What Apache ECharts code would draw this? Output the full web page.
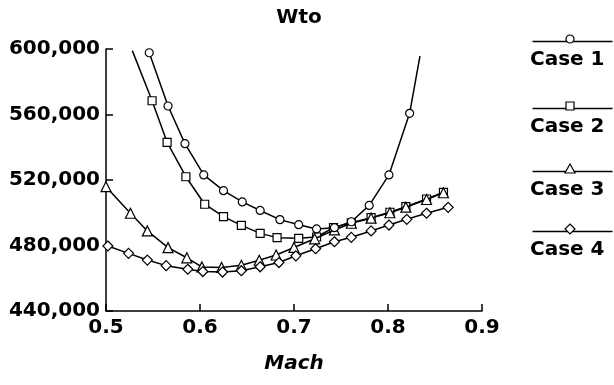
<!DOCTYPE html>
<html>
<head>
<meta charset="utf-8">
<script src="https://cdn.jsdelivr.net/npm/echarts@6/dist/echarts.min.js"></script>
<style>
html,body{margin:0;padding:0;background:#fff;}
#chart{width:614px;height:385px;}
</style>
</head>
<body>
<div id="chart"></div>
<script>
// ---- data ----
var chartTitle = 'Wto';
var xName = 'Mach';
var seriesNames = ['Case 1', 'Case 2', 'Case 3', 'Case 4'];
var yTicks = [440000, 480000, 520000, 560000, 600000];
var xTicks = [0.5, 0.6, 0.7, 0.8, 0.9];

var case1Mach = [0.546, 0.566, 0.584, 0.604, 0.625, 0.645, 0.664, 0.685, 0.705, 0.724, 0.743, 0.761, 0.780, 0.801, 0.823, 0.834];
var case1Wto  = [597700, 565200, 542200, 523100, 513500, 506600, 501400, 495800, 492700, 490100, 490900, 494500, 504500, 523100, 560700, 595700];

var case2Mach = [0.528, 0.549, 0.565, 0.585, 0.605, 0.625, 0.644, 0.664, 0.682, 0.705, 0.724, 0.742, 0.761, 0.782, 0.802, 0.819, 0.841, 0.859];
var case2Wto  = [599000, 568400, 543000, 522000, 505200, 497600, 492300, 487400, 484800, 484400, 485200, 490900, 493900, 497000, 500300, 503700, 508400, 512500];

var case3Mach = [0.500, 0.526, 0.544, 0.566, 0.586, 0.602, 0.623, 0.644, 0.663, 0.681, 0.700, 0.722, 0.743, 0.761, 0.782, 0.802, 0.819, 0.841, 0.859];
var case3Wto  = [515900, 499700, 488900, 478700, 472500, 466900, 466600, 467900, 471000, 474200, 478800, 484100, 489500, 493600, 496700, 500000, 503400, 508100, 512200];

var case4Mach = [0.502, 0.524, 0.544, 0.564, 0.587, 0.603, 0.624, 0.644, 0.664, 0.684, 0.702, 0.723, 0.743, 0.761, 0.782, 0.801, 0.820, 0.841, 0.864];
var case4Wto  = [479700, 475200, 471100, 467700, 465500, 464100, 463800, 464600, 467000, 469600, 473700, 478000, 482300, 485000, 488900, 492500, 496000, 499700, 503300];

var symbols = ['circle', 'rect', 'triangle', 'diamond'];
var symbolSizes = [8, 8, 10, 10];

// ---- build ----
function pairs(xs, ys, hideFirst, hideLast) {
  return xs.map(function (x, i) {
    var item = { value: [x, ys[i]] };
    if ((hideFirst && i === 0) || (hideLast && i === xs.length - 1)) item.symbol = 'none';
    return item;
  });
}
var allData = [
  pairs(case1Mach, case1Wto, false, true),
  pairs(case2Mach, case2Wto, true, false),
  pairs(case3Mach, case3Wto, false, false),
  pairs(case4Mach, case4Wto, false, false)
];

var FONT = 'DejaVu Sans';
var GL = 106, GT = 49, GW = 376, GH = 262;

var series = allData.map(function (d, i) {
  return {
    name: seriesNames[i],
    type: 'line',
    data: d,
    symbol: symbols[i],
    symbolSize: symbolSizes[i],
    showAllSymbol: true,
    z: [4, 2, 3, 5][i],
    lineStyle: { color: '#000', width: 1.5 },
    itemStyle: { color: '#fff', borderColor: '#000', borderWidth: 1.2 },
    emphasis: { disabled: true },
    animation: false
  };
});

// legend drawn as graphics: line with marker above its label
var legendY = [39, 106, 169, 229];
var graphics = [];
seriesNames.forEach(function (n, i) {
  graphics.push({
    type: 'line', left: 530, top: legendY[i],
    shape: { x1: 0, y1: 0, x2: 80, y2: 0 },
    style: { stroke: '#000', lineWidth: 1.5 }
  });
  var s = symbolSizes[i];
  var shp;
  if (i === 0) shp = { type: 'circle', x: 570, y: legendY[i], shape: { cx: 0, cy: 0, r: s / 2 } };
  else if (i === 1) shp = { type: 'rect', x: 570 - s / 2, y: legendY[i] - s / 2, shape: { x: 0, y: 0, width: s, height: s } };
  else if (i === 2) shp = { type: 'polygon', x: 570, y: legendY[i], shape: { points: [[0, -s / 2], [s / 2, s / 2 - 1], [-s / 2, s / 2 - 1]] } };
  else shp = { type: 'polygon', x: 570, y: legendY[i], shape: { points: [[0, -s / 2], [s / 2, 0], [0, s / 2], [-s / 2, 0]] } };
  shp.style = { fill: '#fff', stroke: '#000', lineWidth: 1.2 };
  shp.z = 10;
  graphics.push(shp);
  graphics.push({
    type: 'text', left: 530, top: legendY[i] + 11,
    style: { text: n, fill: '#000', font: 'bold 20px "' + FONT + '"' }
  });
});

var chart = echarts.init(document.getElementById('chart'), null, { renderer: 'canvas' });
chart.setOption({
  backgroundColor: '#fff',
  animation: false,
  title: {
    text: chartTitle, left: GL + GW / 2, textAlign: 'center', top: 3,
    textStyle: { fontFamily: FONT, fontWeight: 'bold', fontSize: 20, color: '#000' }
  },
  grid: { left: GL, top: GT, width: GW, height: GH, containLabel: false },
  xAxis: {
    type: 'value', min: xTicks[0], max: xTicks[xTicks.length - 1], interval: 0.1,
    name: xName, nameLocation: 'middle', nameGap: 43,
    nameTextStyle: { fontFamily: FONT, fontWeight: 'bold', fontStyle: 'italic', fontSize: 20, color: '#000' },
    axisLine: { show: true, lineStyle: { color: '#000', width: 1.5 } },
    axisTick: { show: true, inside: true, length: 7, lineStyle: { color: '#000', width: 1.5 } },
    axisLabel: { margin: 7, fontFamily: FONT, fontWeight: 'bold', fontSize: 20, color: '#000',
      formatter: function (v) { return v.toFixed(1); } },
    splitLine: { show: false }
  },
  yAxis: {
    type: 'value', min: yTicks[0], max: yTicks[yTicks.length - 1], interval: 40000,
    axisLine: { show: true, lineStyle: { color: '#000', width: 1.5 } },
    axisTick: { show: true, inside: true, length: 7, lineStyle: { color: '#000', width: 1.5 } },
    axisLabel: { margin: 6, fontFamily: FONT, fontWeight: 'bold', fontSize: 20, color: '#000',
      formatter: function (v) { return String(Math.round(v)).replace(/\B(?=(\d{3})+(?!\d))/g, ','); } },
    splitLine: { show: false }
  },
  series: series,
  graphic: graphics
});
</script>
</body>
</html>
